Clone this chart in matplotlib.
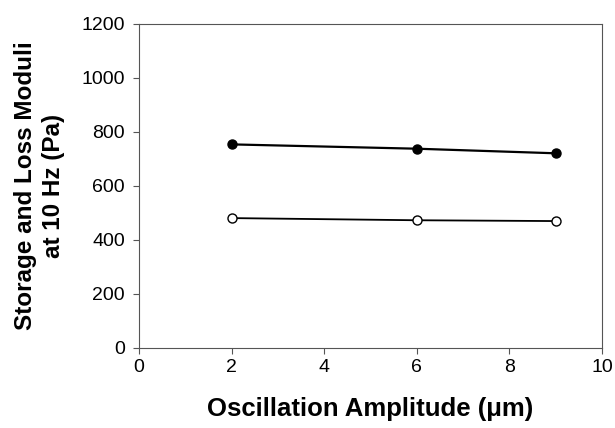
import matplotlib
matplotlib.use("Agg")
import matplotlib.pyplot as plt

plt.rcParams['font.family'] = ['Liberation Sans', 'DejaVu Sans']

amplitude = [2, 6, 9]
storage = [754, 738, 721]
loss = [481, 473, 470]

fig = plt.figure(figsize=(6.15, 4.28), dpi=100)
ax = fig.add_axes([0.226, 0.187, 0.753, 0.757])

ax.plot(amplitude, storage, c="black", linewidth=1.6, marker='o',
        markersize=6.5, markerfacecolor="black", markeredgecolor="black")
ax.plot(amplitude, loss, c="black", linewidth=1.3, marker='o',
        markersize=6.5, markerfacecolor="white", markeredgecolor="black",
        markeredgewidth=1)

ax.set_xlim(0, 10)
ax.set_ylim(0, 1200)
ax.set_xticks([0, 2, 4, 6, 8, 10])
ax.set_yticks([0, 200, 400, 600, 800, 1000, 1200])

for s in ax.spines.values():
    s.set_color("#555555")
    s.set_linewidth(0.8)
ax.tick_params(direction="out", length=4, width=0.8, color="#555555",
               labelsize=14)
ax.tick_params(axis="x", pad=4)
ax.tick_params(axis="y", pad=6)

ax.set_xlabel("Oscillation Amplitude (\u03bcm)", fontsize=18.5, fontweight="bold",
              labelpad=15)
ax.set_ylabel("Storage and Loss Moduli\nat 10 Hz (Pa)", fontsize=17.5,
              fontweight="bold", labelpad=12, linespacing=1.25)

fig.savefig("out.png", dpi=100)
